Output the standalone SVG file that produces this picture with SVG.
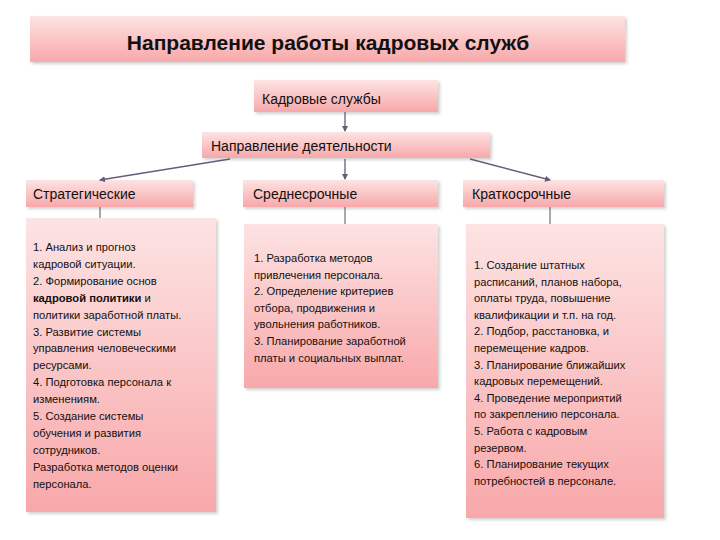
<svg xmlns="http://www.w3.org/2000/svg" width="720" height="540" viewBox="0 0 720 540">
<style>
text{font-family:"Liberation Sans","Noto Sans",sans-serif;fill:#111}
.h{font-size:14px}
.t{font-size:11.2px}
.box{fill:url(#g);filter:url(#sh)}
.c{stroke:#6a5a7a;stroke-width:1.3;fill:none}
.v{stroke:#555;stroke-width:1;fill:none}
</style>
<defs>
<linearGradient id="g" x1="0" y1="0" x2="0" y2="1"><stop offset="0" stop-color="#fde3e3"/><stop offset="1" stop-color="#f8a8aa"/></linearGradient>
<filter id="sh" x="-5%" y="-5%" width="115%" height="120%"><feDropShadow dx="2" dy="2" stdDeviation="1.5" flood-color="#000" flood-opacity="0.18"/></filter>
<marker id="a" markerWidth="6" markerHeight="6" refX="5" refY="3" orient="auto" markerUnits="userSpaceOnUse"><path d="M0,0 L6,3 L0,6z" fill="#6a5a7a"/></marker>
</defs>
<g id="title"><rect class="box" x="30" y="16" width="595" height="46"/><text x="328" y="50" text-anchor="middle" font-size="21" font-weight="bold">Направление работы кадровых служб</text></g>
<g id="kadr"><rect class="box" x="254" y="80" width="184" height="32"/><text class="h" x="262" y="104">Кадровые службы</text></g>
<g id="napr"><rect class="box" x="202" y="132" width="288" height="26"/><text class="h" x="211" y="151">Направление деятельности</text></g>
<g id="strat"><rect class="box" x="26" y="180" width="167" height="27"/><text class="h" x="33" y="199">Стратегические</text></g>
<g id="sred"><rect class="box" x="243" y="180" width="195" height="27"/><text class="h" x="253" y="199">Среднесрочные</text></g>
<g id="krat"><rect class="box" x="463" y="180" width="201" height="27"/><text class="h" x="472" y="199">Краткосрочные</text></g>
<g id="strat-list"><rect class="box" x="26" y="218" width="190" height="294"/>
<text class="t"><tspan x="33" y="251">1. Анализ и прогноз</tspan><tspan x="33" dy="16.9">кадровой ситуации.</tspan><tspan x="33" dy="16.9">2. Формирование основ</tspan><tspan x="33" dy="16.9" font-weight="bold">кадровой политики</tspan><tspan> и</tspan><tspan x="33" dy="16.9">политики заработной платы.</tspan><tspan x="33" dy="16.9">3. Развитие системы</tspan><tspan x="33" dy="16.9">управления человеческими</tspan><tspan x="33" dy="16.9">ресурсами.</tspan><tspan x="33" dy="16.9">4. Подготовка персонала к</tspan><tspan x="33" dy="16.9">изменениям.</tspan><tspan x="33" dy="16.9">5. Создание системы</tspan><tspan x="33" dy="16.9">обучения и развития</tspan><tspan x="33" dy="16.9">сотрудников.</tspan><tspan x="33" dy="16.9">Разработка методов оценки</tspan><tspan x="33" dy="16.9">персонала.</tspan></text></g>
<g id="sred-list"><rect class="box" x="244" y="224" width="194" height="164"/>
<text class="t"><tspan x="254" y="262">1. Разработка методов</tspan><tspan x="254" dy="16.6">привлечения персонала.</tspan><tspan x="254" dy="16.6">2. Определение критериев</tspan><tspan x="254" dy="16.6">отбора, продвижения и</tspan><tspan x="254" dy="16.6">увольнения работников.</tspan><tspan x="254" dy="16.6">3. Планирование заработной</tspan><tspan x="254" dy="16.6">платы и социальных выплат.</tspan></text></g>
<g id="krat-list"><rect class="box" x="466" y="224" width="198" height="294"/>
<text class="t"><tspan x="474" y="269">1. Создание штатных</tspan><tspan x="474" dy="16.6">расписаний, планов набора,</tspan><tspan x="474" dy="16.6">оплаты труда, повышение</tspan><tspan x="474" dy="16.6">квалификации и т.п. на год.</tspan><tspan x="474" dy="16.6">2. Подбор, расстановка, и</tspan><tspan x="474" dy="16.6">перемещение кадров.</tspan><tspan x="474" dy="16.6">3. Планирование ближайших</tspan><tspan x="474" dy="16.6">кадровых перемещений.</tspan><tspan x="474" dy="16.6">4. Проведение мероприятий</tspan><tspan x="474" dy="16.6">по закреплению персонала.</tspan><tspan x="474" dy="16.6">5. Работа с кадровым</tspan><tspan x="474" dy="16.6">резервом.</tspan><tspan x="474" dy="16.6">6. Планирование текущих</tspan><tspan x="474" dy="16.6">потребностей в персонале.</tspan></text></g>
<g id="connectors">
<line class="c" x1="345" y1="112" x2="345" y2="131" marker-end="url(#a)"/>
<line class="c" x1="230" y1="159" x2="100" y2="180" marker-end="url(#a)"/>
<line class="c" x1="345" y1="159" x2="345" y2="179" marker-end="url(#a)"/>
<line class="c" x1="470" y1="159" x2="550" y2="180" marker-end="url(#a)"/>
<line class="v" x1="100" y1="207" x2="100" y2="218"/>
<line class="v" x1="345" y1="207" x2="345" y2="224"/>
<line class="v" x1="550" y1="207" x2="550" y2="224"/>
</g>
</svg>
